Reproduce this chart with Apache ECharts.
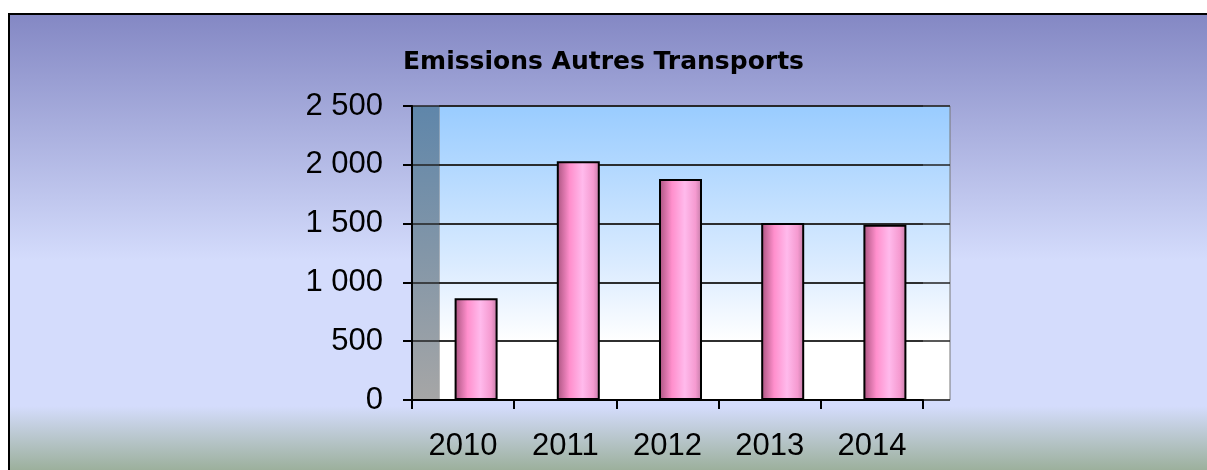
<!DOCTYPE html>
<html>
<head>
<meta charset="utf-8">
<script src="https://cdn.jsdelivr.net/npm/echarts@6/dist/echarts.min.js"></script>
<style>
    html, body { margin: 0; padding: 0; background: #fff; }
    #frame {
        position: absolute; left: 8px; top: 13px; width: 1199px; height: 457px;
        border-top: 2px solid #000; border-left: 2px solid #000; box-sizing: border-box;
        background: linear-gradient(to bottom, #8488c4 0%, #d4dcfc 54%, #d4dcfc 86%, #9cb09c 100%);
    }
    #chart { position: absolute; left: 0; top: 0; width: 1207px; height: 470px; }
</style>
</head>
<body>
<div id="frame"></div>
<div id="chart"></div>
<script>
var titleText = 'Emissions Autres Transports';
var years = ['2010', '2011', '2012', '2013', '2014'];
var emissions = [865, 2030, 1880, 1505, 1490];
var yMax = 2500;
var yStep = 500;

function fmt(v) {
    // espace comme séparateur de milliers
    return String(v).replace(/\B(?=(\d{3})+(?!\d))/g, ' ');
}

var chart = echarts.init(document.getElementById('chart'), null, { renderer: 'canvas' });

var gridTop = 106, gridH = 294, gridW = 511;
var textFont = 'Liberation Sans';

var option = {
    backgroundColor: 'transparent',
    animation: false,
    title: {
        text: titleText,
        left: 'center',
        top: 45,
        textStyle: { fontFamily: 'DejaVu Sans', fontWeight: 'bold', fontSize: 25, color: '#000' }
    },
    grid: [
        // axes
        { left: 412, top: gridTop, width: gridW, height: gridH, containLabel: false },
        // barres (décalage 3D)
        { left: 425, top: gridTop, width: gridW, height: gridH, containLabel: false },
        // mur du fond
        {
            left: 439, top: gridTop, width: gridW, height: gridH, containLabel: false, show: true, z: -2,
            borderColor: '#777', borderWidth: 1,
            backgroundColor: new echarts.graphic.LinearGradient(0, 0, 0, 1, [
                { offset: 0, color: '#99ccff' },
                { offset: 0.55, color: '#dcecff' },
                { offset: 0.8, color: '#ffffff' },
                { offset: 1, color: '#ffffff' }
            ])
        }
    ],
    graphic: [{
        type: 'rect',
        z: -1,
        shape: { x: 412, y: gridTop, width: 27, height: gridH },
        style: {
            fill: new echarts.graphic.LinearGradient(0, 0, 0, 1, [
                { offset: 0, color: '#5f86aa' },
                { offset: 1, color: '#a6a6a6' }
            ])
        }
    }],
    xAxis: [
        {
            gridIndex: 0, type: 'category', data: years, boundaryGap: true,
            axisLine: { show: true, lineStyle: { color: '#000', width: 2 } },
            axisTick: { show: true, length: 9, lineStyle: { color: '#000', width: 2 } },
            axisLabel: { fontSize: 31, color: '#000', fontFamily: textFont, margin: 31 },
            splitLine: { show: false }
        },
        { gridIndex: 1, type: 'category', data: years, show: false },
        { gridIndex: 2, type: 'category', data: years, show: false }
    ],
    yAxis: [
        {
            gridIndex: 0, type: 'value', min: 0, max: yMax, interval: yStep,
            axisLine: { show: true, lineStyle: { color: '#000', width: 2 } },
            axisTick: { show: true, length: 9, lineStyle: { color: '#000', width: 2 } },
            axisLabel: { fontSize: 31, color: '#000', fontFamily: textFont, margin: 29, formatter: fmt },
            splitLine: { show: true, lineStyle: { color: '#222', width: 1.5 } }
        },
        { gridIndex: 1, type: 'value', min: 0, max: yMax, interval: yStep, show: false },
        {
            gridIndex: 2, type: 'value', min: 0, max: yMax, interval: yStep,
            axisLine: { show: false }, axisTick: { show: false }, axisLabel: { show: false },
            splitLine: { show: true, lineStyle: { color: '#222', width: 1.5 } }
        }
    ],
    series: [{
        type: 'bar',
        name: titleText,
        xAxisIndex: 1,
        yAxisIndex: 1,
        data: emissions,
        barWidth: 43,
        itemStyle: {
            borderColor: '#000',
            borderWidth: 2,
            color: new echarts.graphic.LinearGradient(0, 0, 1, 0, [
                { offset: 0, color: '#a8527e' },
                { offset: 0.3, color: '#ff8fcc' },
                { offset: 0.6, color: '#ffbaec' },
                { offset: 0.85, color: '#f59ad0' },
                { offset: 1, color: '#c07aa4' }
            ])
        }
    }]
};

chart.setOption(option);
</script>
</body>
</html>
